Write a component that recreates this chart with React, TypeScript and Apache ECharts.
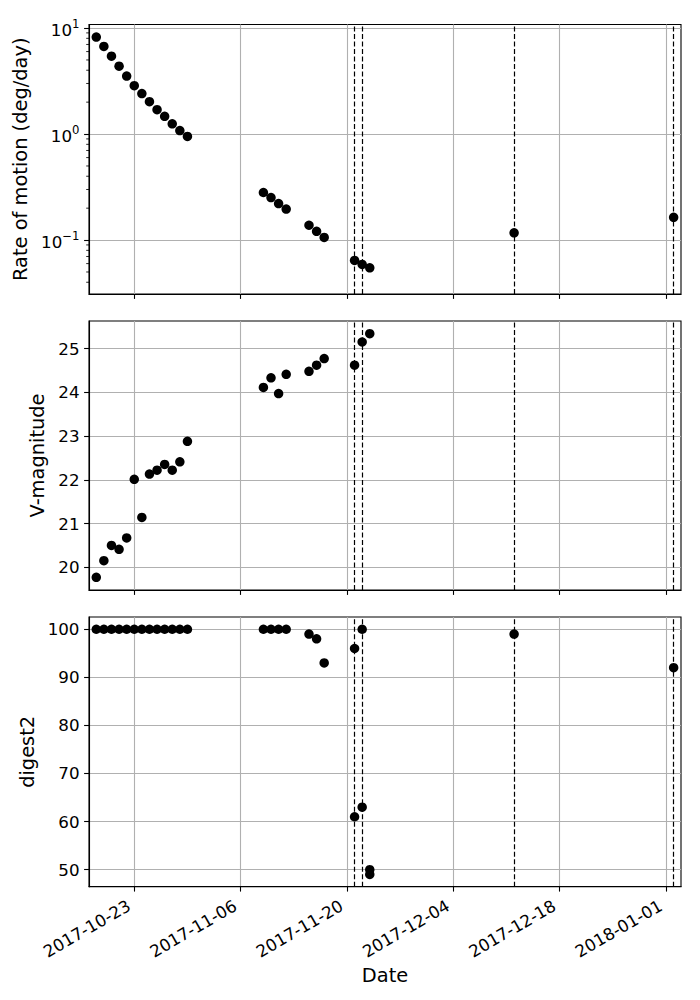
import React, { useEffect, useRef } from 'react';
import * as echarts from 'echarts';

const FONT = 'DejaVu Sans';
const TICK_FONT = 16.7;
const NAME_FONT = 19.4;

// Observation dates (UTC days)
const rateDates = [
  '2017-10-18', '2017-10-19', '2017-10-20', '2017-10-21', '2017-10-22', '2017-10-23', '2017-10-24',
  '2017-10-25', '2017-10-26', '2017-10-27', '2017-10-28', '2017-10-29', '2017-10-30',
  '2017-11-09', '2017-11-10', '2017-11-11', '2017-11-12',
  '2017-11-15', '2017-11-16', '2017-11-17',
  '2017-11-21', '2017-11-22', '2017-11-23',
  '2017-12-12', '2018-01-02',
];
const rateValues = [
  8.22, 6.7, 5.43, 4.37, 3.52, 2.86, 2.41, 2.02, 1.7, 1.47, 1.25, 1.08, 0.95,
  0.281, 0.252, 0.221, 0.196,
  0.138, 0.121, 0.106,
  0.0643, 0.0589, 0.0548,
  0.117, 0.164,
];

const magDates = rateDates.slice(0, 23);
const magValues = [
  19.77, 20.15, 20.5, 20.41, 20.67, 22.01, 21.14, 22.13, 22.22, 22.35, 22.22, 22.41, 22.88,
  24.11, 24.33, 23.97, 24.41,
  24.48, 24.62, 24.77,
  24.62, 25.15, 25.34,
];

const digestDates = [
  '2017-10-18', '2017-10-19', '2017-10-20', '2017-10-21', '2017-10-22', '2017-10-23', '2017-10-24',
  '2017-10-25', '2017-10-26', '2017-10-27', '2017-10-28', '2017-10-29', '2017-10-30',
  '2017-11-09', '2017-11-10', '2017-11-11', '2017-11-12',
  '2017-11-15', '2017-11-16', '2017-11-17',
  '2017-11-21', '2017-11-21', '2017-11-22', '2017-11-22', '2017-11-23', '2017-11-23',
  '2017-12-12', '2018-01-02',
];
const digestValues = [
  100, 100, 100, 100, 100, 100, 100, 100, 100, 100, 100, 100, 100,
  100, 100, 100, 100,
  99, 98, 93,
  96, 61, 100, 63, 50, 49,
  99, 92,
];

// Dates marked with vertical dashed lines
const markedDates = ['2017-11-21', '2017-11-22', '2017-12-12', '2018-01-02'];

// Axis ticks
const dateTicks = ['2017-10-23', '2017-11-06', '2017-11-20', '2017-12-04', '2017-12-18', '2018-01-01'];
const rateTicks = [0.1, 1, 10];
const rateMinorTicks = [0.04, 0.05, 0.06, 0.07, 0.08, 0.09, 0.2, 0.3, 0.4, 0.5, 0.6, 0.7, 0.8, 0.9, 2, 3, 4, 5, 6, 7, 8, 9];
const magTicks = [20, 21, 22, 23, 24, 25];
const digestTicks = [50, 60, 70, 80, 90, 100];

// Axis ranges
const xStart = Date.UTC(2017, 9, 17, 1, 0);
const xEnd = Date.UTC(2018, 0, 2, 23, 15);
const rateRange = [0.031, 10.8];
const magRange = [19.48, 25.63];
const digestRange = [46.45, 102.55];

const toTime = (s: string) => Date.parse(s + 'T00:00:00Z');
const pad2 = (n: number) => (n < 10 ? '0' + n : '' + n);
const fmtDate = (v: number) => {
  const d = new Date(v);
  return `${d.getUTCFullYear()}-${pad2(d.getUTCMonth() + 1)}-${pad2(d.getUTCDate())}`;
};

const GRID_LEFT = 89;
const GRID_WIDTH = 592;
const grids = [
  { top: 24.5, height: 269.5 },
  { top: 321, height: 269 },
  { top: 617, height: 269.7 },
];

export default function App() {
  const ref = useRef<HTMLDivElement>(null);

  useEffect(() => {
    if (!ref.current) return;
    const chart = echarts.init(ref.current, undefined, { renderer: 'svg' });

    const black = '#000000';
    const gridColor = '#b0b0b0';
    const xTickValues = dateTicks.map(toTime);

    const xAxes = grids.map((_, i) => ({
      type: 'value',
      gridIndex: i,
      min: xStart,
      max: xEnd,
      name: i === 2 ? 'Date' : '',
      nameLocation: 'middle',
      nameGap: 79,
      nameTextStyle: { fontFamily: FONT, fontSize: NAME_FONT, color: black },
      axisLine: { show: true, onZero: false, lineStyle: { color: black, width: 1.1 } },
      axisTick: { show: true, length: 4.9, customValues: xTickValues, lineStyle: { color: black, width: 1.1 } },
      axisLabel: {
        show: i === 2,
        customValues: xTickValues,
        rotate: 30,
        margin: 15,
        padding: [0, 6, 0, 0],
        formatter: (v: number) => fmtDate(v),
        fontFamily: FONT,
        fontSize: TICK_FONT,
        color: black,
      },
      splitLine: { show: true, lineStyle: { color: gridColor, width: 1.1 } },
    }));

    const yBase = (i: number) => ({
      gridIndex: i,
      nameLocation: 'middle',
      nameTextStyle: { fontFamily: FONT, fontSize: NAME_FONT, color: black },
      axisLine: { show: true, onZero: false, lineStyle: { color: black, width: 1.1 } },
      splitLine: { show: true, lineStyle: { color: gridColor, width: 1.1 } },
    });

    const yAxes = [
      {
        ...yBase(0),
        type: 'log',
        logBase: 10,
        min: rateRange[0],
        max: rateRange[1],
        name: 'Rate of motion (deg/day)',
        nameGap: 49,
        axisTick: { show: true, length: 4.9, customValues: rateTicks, lineStyle: { color: black, width: 1.1 } },
        axisLabel: {
          customValues: rateTicks,
          margin: 9.5,
          formatter: (v: number) => {
            const e = Math.round(Math.log10(v));
            return `{b|10}{s|${e < 0 ? '\u2212' + -e : e}}`;
          },
          rich: {
            b: { fontFamily: FONT, fontSize: TICK_FONT, color: black, lineHeight: 20, verticalAlign: 'bottom' },
            s: { fontFamily: FONT, fontSize: 11.7, color: black, lineHeight: 13, verticalAlign: 'top' },
          },
        },
      },
      {
        ...yBase(1),
        type: 'value',
        min: magRange[0],
        max: magRange[1],
        name: 'V-magnitude',
        nameGap: 30,
        axisTick: { show: true, length: 4.9, customValues: magTicks, lineStyle: { color: black, width: 1.1 } },
        axisLabel: { customValues: magTicks, margin: 9.5, fontFamily: FONT, fontSize: TICK_FONT, color: black },
      },
      {
        ...yBase(2),
        type: 'value',
        min: digestRange[0],
        max: digestRange[1],
        name: 'digest2',
        nameGap: 41,
        axisTick: { show: true, length: 4.9, customValues: digestTicks, lineStyle: { color: black, width: 1.1 } },
        axisLabel: { customValues: digestTicks, margin: 9.5, fontFamily: FONT, fontSize: TICK_FONT, color: black },
      },
    ];

    const markLine = {
      silent: true,
      symbol: 'none',
      label: { show: false },
      emphasis: { disabled: true },
      lineStyle: { color: black, type: [5, 2.5], width: 1.2 },
      data: markedDates.map((s) => ({ xAxis: toTime(s) })),
    };

    const scatter = (i: number, dates: string[], values: number[]) => ({
      type: 'scatter',
      xAxisIndex: i,
      yAxisIndex: i,
      z: 10,
      symbol: 'circle',
      symbolSize: 9.5,
      itemStyle: { color: black, opacity: 1 },
      emphasis: { disabled: true },
      data: dates.map((s, k) => [toTime(s), values[k]]),
      markLine,
    });

    chart.setOption({
      animation: false,
      backgroundColor: '#ffffff',
      textStyle: { fontFamily: FONT },
      grid: grids.map((g) => ({
        left: GRID_LEFT,
        width: GRID_WIDTH,
        top: g.top,
        height: g.height,
        show: true,
        borderColor: black,
        borderWidth: 1.1,
        backgroundColor: 'transparent',
      })),
      xAxis: xAxes,
      yAxis: yAxes,
      series: [
        scatter(0, rateDates, rateValues),
        scatter(1, magDates, magValues),
        scatter(2, digestDates, digestValues),
      ],
    });

    // Minor ticks of the logarithmic axis
    const minor = rateMinorTicks
      .filter((v) => v >= rateRange[0] && v <= rateRange[1])
      .map((v) => {
        const p = chart.convertToPixel({ gridIndex: 0 }, [xStart, v]) as number[];
        return {
          type: 'line',
          silent: true,
          shape: { x1: p[0] - 2.8, y1: p[1], x2: p[0], y2: p[1] },
          style: { stroke: black, lineWidth: 0.85 },
        };
      });
    chart.setOption({ graphic: minor });

    return () => chart.dispose();
  }, []);

  return (
    <div
      ref={ref}
      style={{ position: 'fixed', left: 0, top: 0, width: 700, height: 1000, background: '#fff' }}
    />
  );
}
